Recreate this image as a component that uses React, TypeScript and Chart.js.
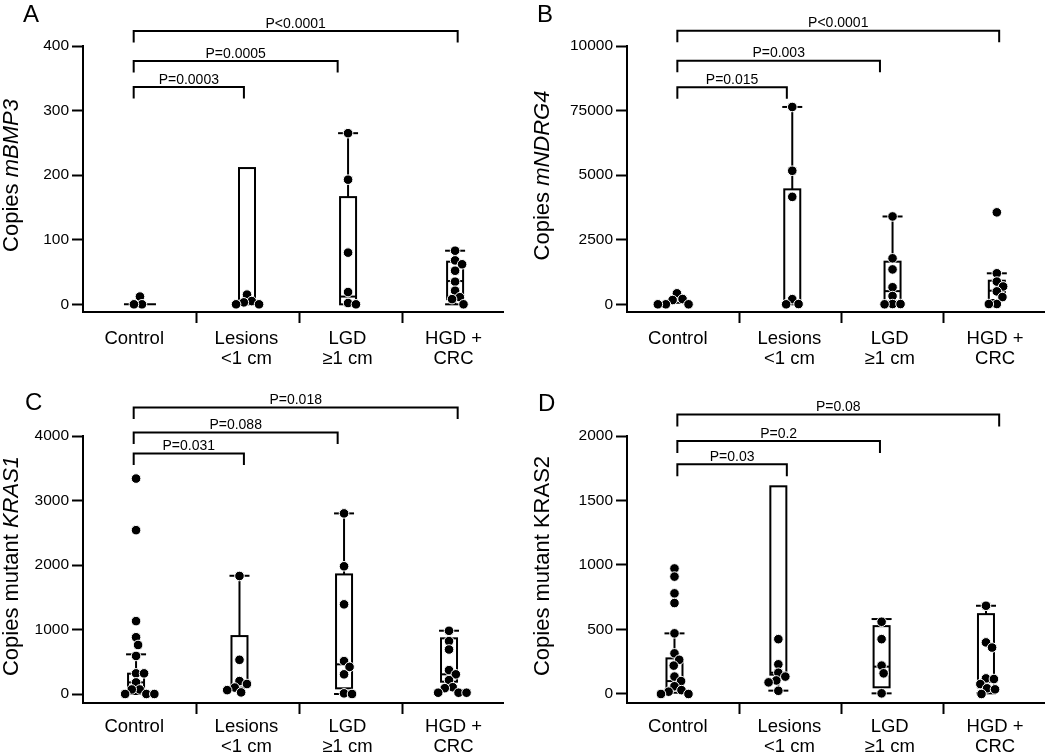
import React, { useEffect, useRef } from "react";
import { Chart, registerables } from "chart.js";
Chart.register(...registerables);

const FONT = "'Liberation Sans', Arial, Helvetica, sans-serif";

const categoryLabels = [["Control"], ["Lesions", "<1 cm"], ["LGD", "≥1 cm"], ["HGD +", "CRC"]];

// ---------- Panel A : mBMP3 ----------
const aYTicks = [0, 100, 200, 300, 400];
const aYTickLabels = ["0", "100", "200", "300", "400"];
const aControl = [12, 0, 0];
const aLesions = [15, 5, 3, 0, 0];
const aLGD = [265, 193, 80, 19, 2, 0];
const aHGD = [83, 68, 62, 52, 35, 21, 11, 8, 0];
// [low whisker, Q1, median, Q3, high whisker]
const aBoxes = [[0, 0, 0, 0, 0], [0, 0, null, 211, 211], [0, 0, 12, 166, 265], [0, 8, 36, 66, 83]];
const aPValues = ["P=0.0003", "P=0.0005", "P<0.0001"];

// ---------- Panel B : mNDRG4 ----------
const bYTicks = [0, 2500, 5000, 7500, 10000];
const bYTickLabels = ["0", "2500", "5000", "75000", "10000"];
const bControl = [425, 205, 165, 0, 0, 0];
const bLesions = [7640, 5170, 4160, 200, 10, 0];
const bLGD = [3400, 1780, 1350, 660, 320, 10, 0, 10];
const bHGD = [3560, 1200, 880, 690, 500, 280, 10, 10];
const bBoxes = [[60, 60, 60, 60, 60], [0, 0, 100, 4450, 7640], [100, 100, 510, 1650, 3400], [166, 166, 526, 913, 1200]];
const bPValues = ["P=0.015", "P=0.003", "P<0.0001"];

// ---------- Panel C : mutant KRAS1 ----------
const cYTicks = [0, 1000, 2000, 3000, 4000];
const cYTickLabels = ["0", "1000", "2000", "3000", "4000"];
const cControl = [3340, 2540, 1130, 880, 760, 590, 320, 320, 180, 70, 70, 0, 0, 0];
const cLesions = [1830, 530, 200, 155, 100, 60, 25];
const cLGD = [2800, 1980, 1390, 510, 420, 305, 10, 0];
const cHGD = [980, 820, 690, 370, 305, 215, 105, 90, 20, 20, 20];
const cBoxes = [[0, 55, 180, 315, 615], [98, 98, 155, 898, 1833], [0, 88, 460, 1854, 2800], [191, 191, 305, 863, 981]];
const cPValues = ["P=0.031", "P=0.088", "P=0.018"];

// ---------- Panel D : mutant KRAS2 ----------
const dYTicks = [0, 500, 1000, 1500, 2000];
const dYTickLabels = ["0", "500", "1000", "1500", "2000"];
const dControl = [973, 910, 780, 705, 470, 315, 265, 220, 135, 100, 60, 30, 18, 0, 0];
const dLesions = [425, 230, 165, 135, 105, 90, 25];
const dLGD = [560, 425, 220, 160, 5];
const dHGD = [684, 400, 360, 121, 116, 77, 44, 36, 0];
const dBoxes = [[10, 10, 100, 276, 470], [26, 150, 165, 1610, 1610], [5, 52, 212, 526, 581], [5, 52, 95, 619, 684]];
const dPValues = ["P=0.03", "P=0.2", "P=0.08"];

// ---------- layout ----------
const X_MIN = -0.597;
const X_MAX = 3.48;
const SEPARATORS = [0.5, 1.5, 2.5];
const LABEL_POS = [-0.1, 0.99, 1.97, 3.0];
const BRACKET_LEFT = -0.105;
const BRACKET_RIGHT = [0.965, 1.875, 3.04];
const BOX_W = 16;
const CAP_W = 20;
const FLAT_W = 32;
const DOT_R = 4.8;

const panels: any[] = [
  {
    key: "A", left: 0, top: 0, width: 520, height: 390,
    plotLeft: 83, padRight: 17, plotTop: 46, plotBottom: 312, labelPad: -3,
    yMin: -11.9, yMax: 400, yTicks: aYTicks, yTickLabels: aYTickLabels,
    groups: [aControl, aLesions, aLGD, aHGD], boxes: aBoxes,
    groupX: [-0.044, 0.995, 1.976, 3.015],
    pValues: aPValues, bracketY: [41, 15, -15], drop: 11.5,
    titleA: "Copies ", titleB: "mBMP3", italic: true, titleOffset: 65.5,
    letter: "A", letterX: 23, letterY: 22,
  },
  {
    key: "B", left: 520, top: 0, width: 530, height: 390,
    plotLeft: 107, padRight: 5, plotTop: 46, plotBottom: 312, labelPad: -3,
    yMin: -298, yMax: 10000, yTicks: bYTicks, yTickLabels: bYTickLabels,
    groups: [bControl, bLesions, bLGD, bHGD], boxes: bBoxes,
    groupX: [-0.109, 1.018, 1.998, 3.017],
    pValues: bPValues, bracketY: [41.3, 14.7, -15.3], drop: 11.5,
    titleA: "Copies ", titleB: "mNDRG4", italic: true, titleOffset: 78,
    letter: "B", letterX: 17, letterY: 22,
  },
  {
    key: "C", left: 0, top: 390, width: 520, height: 364,
    plotLeft: 83, padRight: 17, plotTop: 46, plotBottom: 313, labelPad: -6,
    yMin: -139.5, yMax: 4000, yTicks: cYTicks, yTickLabels: cYTickLabels,
    groups: [cControl, cLesions, cLGD, cHGD], boxes: cBoxes,
    groupX: [-0.082, 0.922, 1.937, 2.956],
    pValues: cPValues, bracketY: [17.6, -3.4, -28.4], drop: 11.5,
    titleA: "Copies mutant ", titleB: "KRAS1", italic: true, titleOffset: 65.5,
    letter: "C", letterX: 25, letterY: 20,
  },
  {
    key: "D", left: 520, top: 390, width: 530, height: 364,
    plotLeft: 107, padRight: 5, plotTop: 46, plotBottom: 313, labelPad: -6,
    yMin: -69.8, yMax: 2000, yTicks: dYTicks, yTickLabels: dYTickLabels,
    groups: [dControl, dLesions, dLGD, dHGD], boxes: dBoxes,
    groupX: [-0.133, 0.882, 1.891, 2.911],
    pValues: dPValues, bracketY: [28.3, 5, -21.4], drop: 12,
    titleA: "Copies mutant ", titleB: "KRAS2", italic: false, titleOffset: 78,
    letter: "D", letterX: 18, letterY: 21,
  },
];

// simple beeswarm: returns horizontal pixel offsets for each value
function swarm(values: number[], pxPerVal: number, diam: number): number[] {
  const order = values.map((_, i) => i).sort((a, b) => values[b] - values[a]);
  const placed: { x: number; y: number }[] = [];
  const out = new Array(values.length).fill(0);
  for (const i of order) {
    const y = values[i] * pxPerVal;
    const iv: number[][] = [];
    for (const p of placed) {
      const dy = Math.abs(p.y - y);
      if (dy < diam) {
        const w = Math.sqrt(diam * diam - dy * dy);
        iv.push([p.x - w, p.x + w]);
      }
    }
    const cands = [0];
    iv.forEach(([a, b]) => cands.push(a, b));
    cands.sort((a, b) => Math.abs(a) - Math.abs(b) || b - a);
    let chosen = 0;
    for (const c of cands) {
      if (iv.every(([a, b]) => c <= a + 1e-6 || c >= b - 1e-6)) { chosen = c; break; }
    }
    out[i] = chosen;
    placed.push({ x: chosen, y });
  }
  return out;
}

function buildConfig(cfg: any): any {
  const plotRight = cfg.width - cfg.padRight;
  const pxX = (plotRight - cfg.plotLeft) / (X_MAX - X_MIN);
  const pxY = (cfg.plotBottom - cfg.plotTop) / (cfg.yMax - cfg.yMin);
  const points: any[] = [];
  cfg.groups.forEach((vals: number[], gi: number) => {
    const offs = swarm(vals, pxY, 8);
    vals.forEach((v, k) => points.push({ x: cfg.groupX[gi] + offs[k] / pxX, y: v }));
  });

  const line = (ctx: any, x1: number, y1: number, x2: number, y2: number) => {
    ctx.beginPath(); ctx.moveTo(x1, y1); ctx.lineTo(x2, y2); ctx.stroke();
  };

  const decor = {
    id: "decor" + cfg.key,
    beforeDatasetsDraw(chart: any) {
      const xs = chart.scales.x, ys = chart.scales.y, ctx = chart.ctx;
      ctx.save();
      ctx.strokeStyle = "#000"; ctx.lineWidth = 2; ctx.lineCap = "butt";
      cfg.boxes.forEach((b: any[], gi: number) => {
        const [lo, q1, med, q3, hi] = b;
        const cx = xs.getPixelForValue(cfg.groupX[gi]);
        const y1 = ys.getPixelForValue(q1), y3 = ys.getPixelForValue(q3);
        if (hi > q3) {
          const yh = ys.getPixelForValue(hi);
          line(ctx, cx, y3, cx, yh); line(ctx, cx - CAP_W / 2, yh, cx + CAP_W / 2, yh);
        }
        if (lo < q1) {
          const yl = ys.getPixelForValue(lo);
          line(ctx, cx, y1, cx, yl); line(ctx, cx - CAP_W / 2, yl, cx + CAP_W / 2, yl);
        }
        if (q3 > q1) {
          ctx.fillStyle = "#fff";
          ctx.fillRect(cx - BOX_W / 2, y3, BOX_W, y1 - y3);
          ctx.strokeRect(cx - BOX_W / 2, y3, BOX_W, y1 - y3);
          if (med !== null) {
            const ym = ys.getPixelForValue(med);
            line(ctx, cx - BOX_W / 2, ym, cx + BOX_W / 2, ym);
          }
        } else {
          line(ctx, cx - FLAT_W / 2, y1, cx + FLAT_W / 2, y1);
        }
      });
      ctx.restore();
    },
    afterDraw(chart: any) {
      const xs = chart.scales.x, ctx = chart.ctx, area = chart.chartArea;
      ctx.save();
      ctx.strokeStyle = "#000"; ctx.fillStyle = "#000"; ctx.lineWidth = 2;
      ctx.font = `14px ${FONT}`; ctx.textAlign = "center"; ctx.textBaseline = "alphabetic";
      cfg.pValues.forEach((p: string, j: number) => {
        const x1 = xs.getPixelForValue(BRACKET_LEFT), x2 = xs.getPixelForValue(BRACKET_RIGHT[j]);
        const y = area.top + cfg.bracketY[j];
        ctx.beginPath();
        ctx.moveTo(x1, y + cfg.drop); ctx.lineTo(x1, y); ctx.lineTo(x2, y); ctx.lineTo(x2, y + cfg.drop);
        ctx.stroke();
        ctx.fillText(p, (x1 + x2) / 2, y - 3.5);
      });
      // y axis title (mixed style)
      ctx.save();
      ctx.translate(area.left - cfg.titleOffset, (area.top + area.bottom) / 2 - 3.5);
      ctx.rotate(-Math.PI / 2);
      ctx.textAlign = "left";
      ctx.font = `22px ${FONT}`;
      const w1 = ctx.measureText(cfg.titleA).width;
      const fB = `${cfg.italic ? "italic " : ""}22px ${FONT}`;
      ctx.font = fB;
      const w2 = ctx.measureText(cfg.titleB).width;
      const start = -(w1 + w2) / 2;
      ctx.font = `22px ${FONT}`;
      ctx.fillText(cfg.titleA, start, 0);
      ctx.font = fB;
      ctx.fillText(cfg.titleB, start + w1, 0);
      ctx.restore();
      // panel letter
      ctx.font = `24px ${FONT}`; ctx.textAlign = "left";
      ctx.fillText(cfg.letter, cfg.letterX, cfg.letterY);
      ctx.restore();
    },
  };

  return {
    type: "scatter",
    data: {
      datasets: [{
        data: points,
        xAxisID: "x", yAxisID: "y",
        pointRadius: DOT_R, pointHoverRadius: DOT_R,
        pointBackgroundColor: "#000", pointBorderColor: "#fff", pointBorderWidth: 1,
        clip: false,
      }],
    },
    options: {
      responsive: false, maintainAspectRatio: false, animation: false, devicePixelRatio: 1,
      layout: { padding: { left: 0, right: cfg.padRight, top: cfg.plotTop, bottom: 0 } },
      plugins: { legend: { display: false }, tooltip: { enabled: false } },
      scales: {
        x: {
          type: "linear", position: "bottom", min: X_MIN, max: X_MAX, weight: 1,
          afterBuildTicks: (s: any) => { s.ticks = SEPARATORS.map((v) => ({ value: v })); },
          afterFit: (s: any) => { s.height = 12; },
          ticks: { callback: () => "", autoSkip: false, padding: 0, font: { size: 1 } },
          grid: { display: true, drawOnChartArea: false, drawTicks: true, tickLength: 11, tickWidth: 2, tickColor: "#000" },
          border: { display: true, width: 2, color: "#000" },
        },
        xl: {
          type: "linear", position: "bottom", min: X_MIN, max: X_MAX, weight: 2,
          afterBuildTicks: (s: any) => { s.ticks = LABEL_POS.map((v) => ({ value: v })); },
          afterFit: (s: any) => { s.height = cfg.height - cfg.plotBottom - 12; },
          ticks: {
            callback: (_v: any, i: number) => categoryLabels[i],
            autoSkip: false, maxRotation: 0, minRotation: 0, padding: cfg.labelPad, color: "#000",
            font: { family: FONT, size: 18.5, lineHeight: 1.06 },
          },
          grid: { display: false },
          border: { display: false },
        },
        y: {
          type: "linear", position: "left", min: cfg.yMin, max: cfg.yMax,
          afterBuildTicks: (s: any) => { s.ticks = cfg.yTicks.map((v: number) => ({ value: v })); },
          afterFit: (s: any) => { s.width = cfg.plotLeft; },
          ticks: {
            callback: (_v: any, i: number) => cfg.yTickLabels[i],
            autoSkip: false, padding: 3, color: "#000",
            font: { family: FONT, size: 15.5 },
          },
          grid: { display: true, drawOnChartArea: false, drawTicks: true, tickLength: 11, tickWidth: 2, tickColor: "#000" },
          border: { display: true, width: 2, color: "#000" },
        },
      },
    },
    plugins: [decor],
  };
}

function Panel({ cfg }: { cfg: any }) {
  const ref = useRef<HTMLCanvasElement>(null);
  useEffect(() => {
    if (!ref.current) return;
    const chart = new Chart(ref.current, buildConfig(cfg));
    return () => chart.destroy();
  }, [cfg]);
  return (
    <canvas
      ref={ref}
      width={cfg.width}
      height={cfg.height}
      style={{ position: "absolute", left: cfg.left, top: cfg.top, width: cfg.width, height: cfg.height }}
    />
  );
}

export default function App() {
  Chart.defaults.font.family = FONT;
  Chart.defaults.color = "#000";
  return (
    <div style={{ position: "absolute", left: 0, top: 0, width: 1050, height: 754, overflow: "hidden", background: "#fff" }}>
      {panels.map((p) => <Panel key={p.key} cfg={p} />)}
    </div>
  );
}
